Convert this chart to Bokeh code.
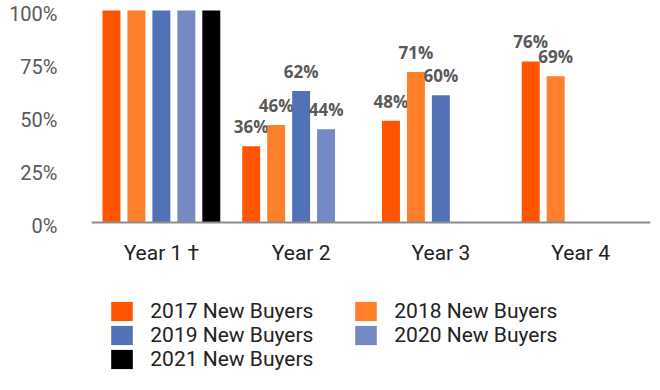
from bokeh.plotting import figure
from bokeh.models import (ColumnDataSource, FactorRange, Range1d, LinearAxis, FixedTicker,
                          PrintfTickFormatter, Legend, LegendItem, Span)
from bokeh.transform import dodge
from bokeh.core.properties import value
from bokeh.embed import file_html
from bokeh.resources import INLINE

years = ["Year 1 \u2020", "Year 2", "Year 3", "Year 4"]
series = ["2017 New Buyers", "2018 New Buyers", "2019 New Buyers",
          "2020 New Buyers", "2021 New Buyers"]
buyers_2017 = [100, 36, 48, 76]
buyers_2018 = [100, 46, 71, 69]
buyers_2019 = [100, 62, 60, None]
buyers_2020 = [100, 44, None, None]
buyers_2021 = [100, None, None, None]
show_label = [False, True, True, True]
colors = ["#ff5500", "#ff7f2a", "#5272b8", "#7589c4", "#000000"]
y_ticks = [0, 25, 50, 75, 100]

all_series = [buyers_2017, buyers_2018, buyers_2019, buyers_2020, buyers_2021]

W, H = 652, 382
px_per_unit = 2.12
frame_bottom = 378
zero_px = 222
ytop = zero_px / px_per_unit
ybot = -(frame_bottom - zero_px) / px_per_unit
delta = 3.5 / px_per_unit
slot = 25 / 140
bw = 18 / 140

p = figure(x_range=FactorRange(*years, range_padding=0),
           y_range=Range1d(ybot, ytop),
           width=W, height=H, output_backend="svg", toolbar_location=None,
           min_border_left=91, min_border_right=2, min_border_top=0,
           min_border_bottom=H - frame_bottom, x_axis_location=None, y_axis_location=None)
p.extra_y_ranges = {"lab": Range1d(ybot + delta, ytop + delta)}
p.outline_line_color = None
p.grid.visible = False
p.background_fill_color = "white"

items = []
for k, (name, vals, col) in enumerate(zip(series, all_series, colors)):
    xs = [y for y, v in zip(years, vals) if v is not None]
    vs = [v for v in vals if v is not None]
    src = ColumnDataSource(dict(year=xs, val=vs))
    off = (k - 2) * slot
    r = p.vbar(x=dodge("year", off, range=p.x_range), top="val", width=bw,
               source=src, fill_color=col, line_color=None)
    items.append(LegendItem(label=name, renderers=[r]))
    lx = [y for y, v, s in zip(years, vals, show_label) if v is not None and s]
    lv = [v for y, v, s in zip(years, vals, show_label) if v is not None and s]
    lsrc = ColumnDataSource(dict(year=lx, val=lv, txt=[f"{v}%" for v in lv]))
    p.text(x=dodge("year", off, range=p.x_range), y="val", text="txt", source=lsrc,
           text_font=value("Open Sans"), text_font_style="bold",
           text_font_size="17px", text_color="#595959", text_align="center",
           text_baseline="bottom", y_offset=-8)

# baseline (0%) line
p.add_layout(Span(location=0, dimension="width", line_color="#8c8c8c", line_width=2))

# category labels under the baseline
csrc = ColumnDataSource(dict(year=years, base=[0] * len(years)))
p.text(x="year", y="base", text="year", source=csrc,
       text_font=value("Roboto"), text_font_size="21px", text_color="#222222",
       text_align="center", text_baseline="middle", y_offset=30)

yax = LinearAxis(y_range_name="lab", ticker=FixedTicker(ticks=y_ticks),
                 formatter=PrintfTickFormatter(format="%d%%"))
yax.axis_line_color = None
yax.major_tick_line_color = None
yax.major_tick_out = 0
yax.major_tick_in = 0
yax.minor_tick_line_color = None
yax.minor_tick_out = 0
yax.major_label_standoff = 34
yax.major_label_text_font = "Roboto"
yax.major_label_text_font_size = "20px"
yax.major_label_text_color = "#595959"
p.add_layout(yax, "left")

legend = Legend(items=items, location=(17.3, 7), orientation="horizontal", ncols=2,
                padding=0, margin=0, spacing=0, glyph_width=27, glyph_height=24,
                label_height=22, label_width=202, label_standoff=15,
                label_text_font="Roboto", label_text_font_size="21px",
                label_text_color="#222222", border_line_color=None,
                background_fill_alpha=0)
p.add_layout(legend)

open("out.html", "w").write(file_html(p, INLINE))
